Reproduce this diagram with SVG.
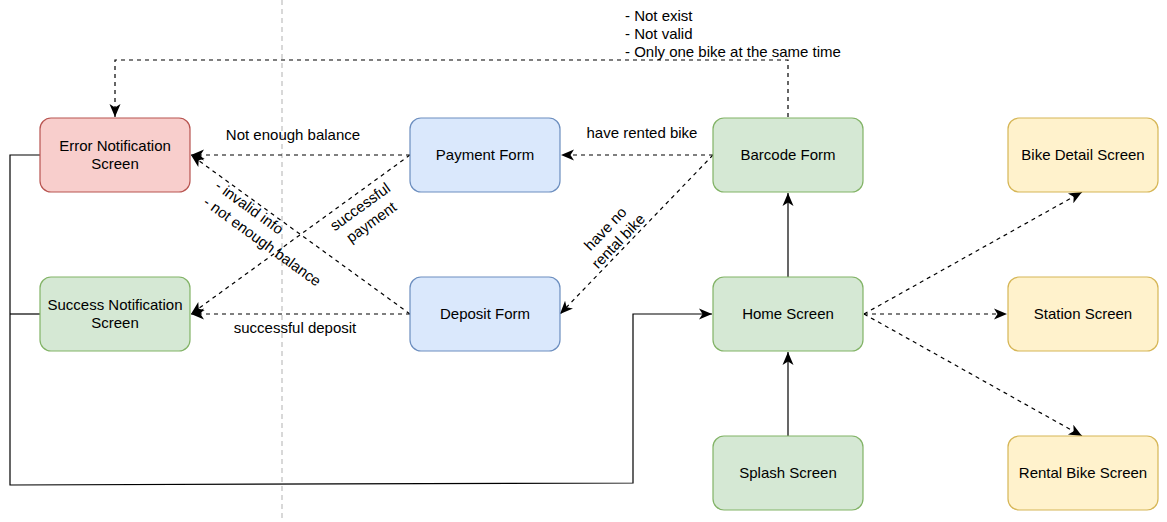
<svg xmlns="http://www.w3.org/2000/svg" width="1167" height="522" viewBox="0 0 1167 522">
<defs>
<style>
text{font-family:"Liberation Sans",Arial,sans-serif;font-size:15px;fill:#000;}
.c{text-anchor:middle;}
.box{stroke-width:1.2;}
.red{fill:#f8cecc;stroke:#b85450;}
.blue{fill:#dae8fc;stroke:#6c8ebf;}
.green{fill:#d5e8d4;stroke:#82b366;}
.yellow{fill:#fff2cc;stroke:#d6b656;}
.e{fill:none;stroke:#000;stroke-width:1.2;}
.d{stroke-dasharray:4 4;}
</style>
<marker id="arr" markerUnits="userSpaceOnUse" markerWidth="14" markerHeight="14" viewBox="0 0 14 14" refX="13" refY="7" orient="auto">
<path d="M0,1.5 L13,7 L0,12.5 L3.5,7 Z" fill="#000"/>
</marker>
</defs>
<line x1="282" y1="0" x2="282" y2="522" stroke="#cccccc" stroke-width="1.5" stroke-dasharray="5 4"/>
<g id="connectors">
<polyline class="e d" points="788,117 788,60 115,60 115,117" marker-end="url(#arr)"/>
<line class="e d" x1="713" y1="155" x2="561" y2="155" marker-end="url(#arr)"/>
<line class="e d" x1="713" y1="155" x2="560" y2="314" marker-end="url(#arr)"/>
<line class="e d" x1="410" y1="155" x2="191" y2="155" marker-end="url(#arr)"/>
<line class="e d" x1="410" y1="155" x2="191" y2="314" marker-end="url(#arr)"/>
<line class="e d" x1="410" y1="314" x2="191" y2="155" marker-end="url(#arr)"/>
<line class="e d" x1="410" y1="314" x2="191" y2="314" marker-end="url(#arr)"/>
<line class="e" x1="788" y1="277" x2="788" y2="193" marker-end="url(#arr)"/>
<line class="e" x1="788" y1="436" x2="788" y2="352" marker-end="url(#arr)"/>
<line class="e d" x1="864" y1="314" x2="1082" y2="192" marker-end="url(#arr)"/>
<line class="e d" x1="864" y1="314" x2="1007" y2="314" marker-end="url(#arr)"/>
<line class="e d" x1="864" y1="314" x2="1082" y2="436" marker-end="url(#arr)"/>
<polyline class="e" points="40,155 10,155 10,485 633,483 633,314 712,314" marker-end="url(#arr)"/>
<line class="e" x1="40" y1="314" x2="10" y2="314"/>
<text x="625" y="21">- Not exist</text>
<text x="625" y="39">- Not valid</text>
<text x="625" y="57">- Only one bike at the same time</text>
<text class="c" x="642" y="138">have rented bike</text>
<text class="c" x="293" y="140">Not enough balance</text>
<text class="c" x="295" y="333">successful deposit</text>
<g transform="translate(612,235) rotate(-46)">
<text class="c" x="0" y="-4">have no</text>
<text class="c" x="0" y="14">rental bike</text>
</g>
<g transform="translate(366,215) rotate(-36)">
<text class="c" x="0" y="-5">successful</text>
<text class="c" x="0" y="14">payment</text>
</g>
<g transform="translate(214,188) rotate(36)">
<text x="0" y="0">- invalid info</text>
<text x="0" y="20">- not enough balance</text>
</g>
</g>
<g id="error"><rect class="box red" x="40" y="118" width="150" height="74" rx="11"/><text class="c" x="115" y="151">Error Notification</text><text class="c" x="115" y="169">Screen</text></g>
<g id="payment"><rect class="box blue" x="410" y="118" width="150" height="74" rx="11"/><text class="c" x="485" y="160">Payment Form</text></g>
<g id="barcode"><rect class="box green" x="713" y="118" width="150" height="74" rx="11"/><text class="c" x="788" y="160">Barcode Form</text></g>
<g id="bikedetail"><rect class="box yellow" x="1008" y="118" width="150" height="74" rx="11"/><text class="c" x="1083" y="160">Bike Detail Screen</text></g>
<g id="success"><rect class="box green" x="40" y="277" width="150" height="74" rx="11"/><text class="c" x="115" y="310">Success Notification</text><text class="c" x="115" y="328">Screen</text></g>
<g id="deposit"><rect class="box blue" x="410" y="277" width="150" height="74" rx="11"/><text class="c" x="485" y="319">Deposit Form</text></g>
<g id="home"><rect class="box green" x="713" y="277" width="150" height="74" rx="11"/><text class="c" x="788" y="319">Home Screen</text></g>
<g id="station"><rect class="box yellow" x="1008" y="277" width="150" height="74" rx="11"/><text class="c" x="1083" y="319">Station Screen</text></g>
<g id="splash"><rect class="box green" x="713" y="436" width="150" height="74" rx="11"/><text class="c" x="788" y="478">Splash Screen</text></g>
<g id="rental"><rect class="box yellow" x="1008" y="436" width="150" height="74" rx="11"/><text class="c" x="1083" y="478">Rental Bike Screen</text></g>
</svg>
